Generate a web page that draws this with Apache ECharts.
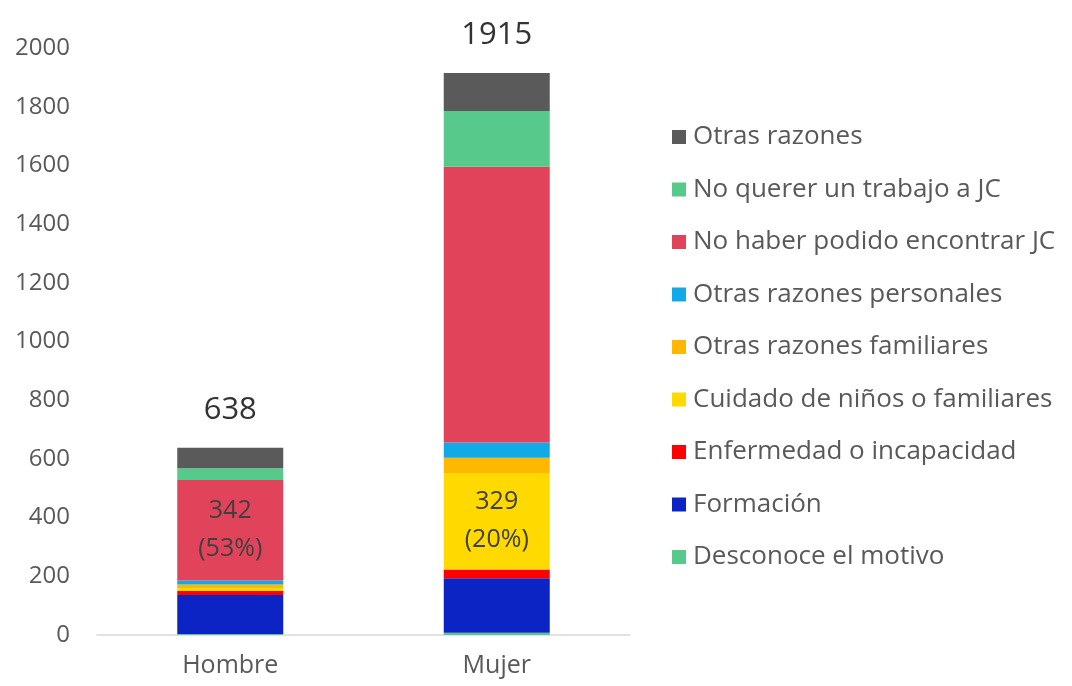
<!DOCTYPE html>
<html>
<head>
<meta charset="utf-8">
<script src="https://cdn.jsdelivr.net/npm/echarts@6/dist/echarts.min.js"></script>
<style>
  html, body { margin: 0; padding: 0; background: #fff; }
  #chart { width: 1072px; height: 686px; }
</style>
</head>
<body>
<div id="chart"></div>
<script>
// categories and values
const categories = ["Hombre", "Mujer"];
const totals = [638, 1915];

const desconoce = [3, 8];
const formacion = [133, 185];
const enfermedad = [14, 30];
const cuidado = [10, 329];
const familiares = [12, 52];
const personales = [14, 52];
const noHaber = [342, 939];
const noQuerer = [40, 190];
const otras = [70, 130];

const noHaberLabels = ["342\n(53%)", ""];
const cuidadoLabels = ["", "329\n(20%)"];

const yTicks = [0, 200, 400, 600, 800, 1000, 1200, 1400, 1600, 1800, 2000];

const font = "Open Sans";

const chart = echarts.init(document.getElementById("chart"));

const inner = (labels) => ({
  show: true,
  position: "inside",
  fontSize: 25,
  lineHeight: 38,
  color: "#404040",
  fontFamily: font,
  formatter: (p) => labels[p.dataIndex],
});

// stack order, bottom to top
const series = [
  { name: "Desconoce el motivo", data: desconoce, color: "#57c98a" },
  { name: "Formación", data: formacion, color: "#0c24c4" },
  { name: "Enfermedad o incapacidad", data: enfermedad, color: "#ff0000" },
  { name: "Cuidado de niños o familiares", data: cuidado, color: "#ffd900", label: inner(cuidadoLabels) },
  { name: "Otras razones familiares", data: familiares, color: "#ffb700" },
  { name: "Otras razones personales", data: personales, color: "#12aae6" },
  { name: "No haber podido encontrar JC", data: noHaber, color: "#e0435a", label: inner(noHaberLabels) },
  { name: "No querer un trabajo a JC", data: noQuerer, color: "#57c98a" },
  {
    name: "Otras razones", data: otras, color: "#5a5a5a",
    label: {
      show: true,
      position: "top",
      distance: 22,
      fontSize: 31,
      color: "#333",
      fontFamily: font,
      formatter: (p) => totals[p.dataIndex],
    },
  },
].map((s) => ({
  type: "bar",
  stack: "total",
  barWidth: 106,
  itemStyle: { color: s.color },
  emphasis: { disabled: true },
  ...s,
}));

const options = {
  animation: false,
  grid: { left: 97, right: 442, top: 48, bottom: 51 },
  legend: {
    orient: "vertical",
    left: 667,
    top: 117,
    data: series.map((s) => s.name).reverse(),
    itemWidth: 14,
    itemHeight: 14,
    itemGap: 22.5,
    icon: "rect",
    textStyle: { fontSize: 26, lineHeight: 30, color: "#595959", fontFamily: font, padding: [0, 0, 0, 2] },
  },
  xAxis: {
    type: "category",
    data: categories,
    axisLine: { lineStyle: { color: "#d9d9d9", width: 1.5 } },
    axisTick: { show: false },
    axisLabel: { fontSize: 25, color: "#595959", fontFamily: font, margin: 18 },
  },
  yAxis: {
    type: "value",
    min: yTicks[0],
    max: yTicks[yTicks.length - 1],
    interval: 200,
    splitLine: { show: false },
    axisLine: { show: false },
    axisTick: { show: false },
    axisLabel: { fontSize: 24, color: "#595959", fontFamily: font, margin: 27, formatter: (v) => String(v) },
  },
  series: series,
};

chart.setOption(options);
</script>
</body>
</html>
